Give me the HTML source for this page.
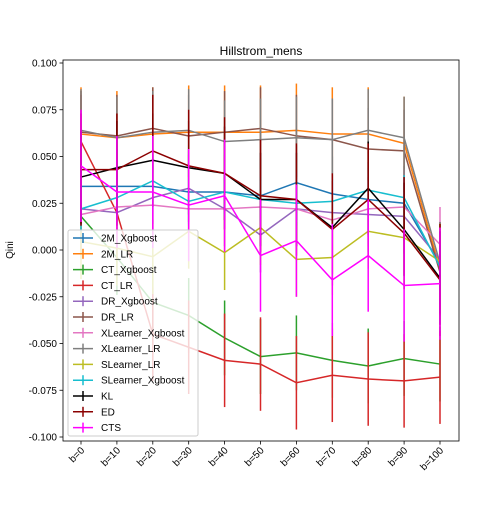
<!DOCTYPE html>
<html><head><meta charset="utf-8"><style>
body{margin:0;background:#fff}
svg{font-family:"Liberation Sans","DejaVu Sans",sans-serif}
</style></head><body>
<svg id="chart" width="504" height="504"></svg>
<script>
const categories=["b=0","b=10","b=20","b=30","b=40","b=50","b=60","b=70","b=80","b=90","b=100"];
const yTicks=[0.100,0.075,0.050,0.025,0.000,-0.025,-0.050,-0.075,-0.100];
const seriesNames=["2M_Xgboost","2M_LR","CT_Xgboost","CT_LR","DR_Xgboost","DR_LR","XLearner_Xgboost","XLearner_LR","SLearner_LR","SLearner_Xgboost","KL","ED","CTS"];
const seriesColors=["#1f77b4","#ff7f0e","#2ca02c","#d62728","#9467bd","#8c564b","#e377c2","#7f7f7f","#bcbd22","#17becf","#000000","#8b0000","#ff00ff"];
const s2MXgb=[0.034,0.034,0.034,0.031,0.031,0.029,0.036,0.030,0.027,0.025,-0.008];
const s2MLR=[0.062,0.060,0.062,0.063,0.063,0.063,0.064,0.062,0.062,0.057,-0.010];
const sCTXgb=[0.018,-0.004,-0.028,-0.035,-0.047,-0.057,-0.055,-0.059,-0.062,-0.058,-0.061];
const sCTLR=[0.058,0.020,-0.045,-0.052,-0.059,-0.061,-0.071,-0.067,-0.069,-0.070,-0.068];
const sDRXgb=[0.022,0.020,0.028,0.033,0.022,0.008,0.022,0.020,0.019,0.018,-0.005];
const sDRLR=[0.063,0.061,0.065,0.061,0.063,0.065,0.061,0.059,0.054,0.053,-0.012];
const sXXgb=[0.019,0.023,0.024,0.022,0.022,0.023,0.022,0.016,0.022,0.023,0.003];
const sXLR=[0.064,0.060,0.063,0.064,0.058,0.059,0.060,0.059,0.064,0.060,-0.007];
const sSLR=[0.0045,0.001,-0.0036,0.010,-0.0014,0.012,-0.005,-0.004,0.010,0.0066,-0.006];
const sSXgb=[0.022,0.028,0.037,0.026,0.031,0.027,0.025,0.026,0.032,0.028,-0.009];
const sKL=[0.039,0.044,0.048,0.044,0.041,0.027,0.027,0.012,0.033,0.011,-0.015];
const sED=[0.043,0.043,0.053,0.045,0.041,0.029,0.027,0.011,0.027,0.009,-0.016];
const sCTS=[0.045,0.031,0.031,0.024,0.029,-0.003,0.005,-0.016,-0.003,-0.019,-0.018];
const seriesValues=[s2MXgb,s2MLR,sCTXgb,sCTLR,sDRXgb,sDRLR,sXXgb,sXLR,sSLR,sSXgb,sKL,sED,sCTS];
const seriesErr=[0.02,0.025,0.02,0.025,0.02,0.022,0.02,0.022,0.02,0.012,0.025,0.03,0.03];

const NS="http://www.w3.org/2000/svg";
const svg=document.getElementById('chart');
const L=63,R=459,T=60,B=441;
function xS(i){return 81+i*(440-81)/(categories.length-1);}
function yS(v){return 250-1870*v;}
function el(t,a,p){const e=document.createElementNS(NS,t);for(const k in a)e.setAttribute(k,a[k]);(p||svg).appendChild(e);return e;}

const title=el('text',{x:261,y:55,'text-anchor':'middle','font-size':12});
title.textContent='Hillstrom_mens';


const yl=el('text',{x:0,y:0,'text-anchor':'middle','font-size':10,transform:'translate(13,250) rotate(-90)'});
yl.textContent='Qini';



yTicks.forEach(v=>{
  const y=yS(v);
  el('line',{x1:L-3.5,x2:L,y1:y,y2:y,stroke:'#000','stroke-width':0.8});
  const t=el('text',{x:L-6,y:y+3.5,'text-anchor':'end','font-size':10});
  t.textContent=v.toFixed(3);
  
  
});
categories.forEach((c,i)=>{
  const x=xS(i);
  el('line',{x1:x,x2:x,y1:B,y2:B+3.5,stroke:'#000','stroke-width':0.8});
  const t=el('text',{x:0,y:0,'text-anchor':'end','font-size':10,transform:`translate(${x+4},${B+10}) rotate(-45)`});
  t.textContent=c;
  
  
});

seriesValues.forEach((vals,s)=>{
  const g=el('g',{});
  
  
  vals.forEach((v,i)=>{
    el('line',{x1:xS(i),x2:xS(i),y1:yS(v-seriesErr[s]),y2:yS(v+seriesErr[s]),stroke:seriesColors[s],'stroke-width':1.5},g);
  });
  el('polyline',{points:vals.map((v,i)=>xS(i)+','+yS(v)).join(' '),fill:'none',stroke:seriesColors[s],'stroke-width':1.5},g);
});

el('rect',{x:L,y:T,width:R-L,height:B-T,fill:'none',stroke:'#000','stroke-width':0.8});

const lg=el('g',{});


el('rect',{x:68,y:230,width:130,height:206,fill:'#fff','fill-opacity':0.8,stroke:'#ccc',rx:2},lg);
seriesNames.forEach((n,s)=>{
  const y=238+s*15.8;
  const e=el('g',{},lg);
  
  
  el('line',{x1:73,x2:93,y1:y,y2:y,stroke:seriesColors[s],'stroke-width':1.5},e);
  el('line',{x1:83,x2:83,y1:y-5,y2:y+5,stroke:seriesColors[s],'stroke-width':1.5},e);
  const t=el('text',{x:101,y:y+3.5,'font-size':10},e);
  t.textContent=n;
});
</script>
</body></html>
